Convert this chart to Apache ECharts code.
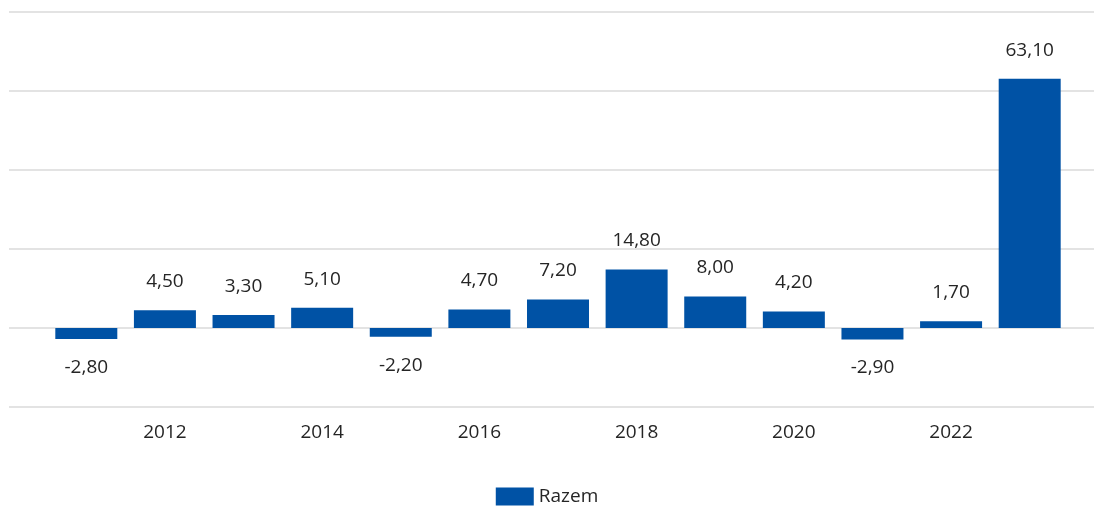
<!DOCTYPE html>
<html>
<head>
<meta charset="utf-8">
<script src="https://cdn.jsdelivr.net/npm/echarts@6/dist/echarts.min.js"></script>
<style>
  html, body { margin: 0; padding: 0; background: #fff; }
  #chart { width: 1094px; height: 506px; }
</style>
</head>
<body>
<div id="chart"></div>
<script>
// Year categories and yearly values of the single series
const years = ['2011', '2012', '2013', '2014', '2015', '2016', '2017', '2018', '2019', '2020', '2021', '2022', '2023'];
const razem = [-2.8, 4.5, 3.3, 5.1, -2.2, 4.7, 7.2, 14.8, 8.0, 4.2, -2.9, 1.7, 63.1];
const seriesName = 'Razem';

// Value scale shared by both grids
const yMin = -20;
const yMax = 80;
const yStep = 20;

const fontFamily = '"Open Sans", "Noto Sans", sans-serif';
const textColor = '#252525';
const barColor = '#0052a5';
const gridColor = '#e3e3e3';

const fmt = v => v.toFixed(2).replace('.', ',');

const chart = echarts.init(document.getElementById('chart'), null, { renderer: 'canvas' });
chart.setOption({
  animation: false,
  textStyle: { fontFamily: fontFamily },
  grid: [
    // plotting area for the bars
    { left: 47, right: 25, top: 12, bottom: 99, containLabel: false },
    // wider area that only carries the horizontal gridlines
    { left: 9, right: 0, top: 12, bottom: 99, containLabel: false }
  ],
  legend: {
    top: 487,
    left: 'center',
    padding: 0,
    itemWidth: 38,
    itemHeight: 18,
    itemGap: 10,
    icon: 'rect',
    textStyle: { fontSize: 19, color: textColor, fontFamily: fontFamily },
    data: [seriesName]
  },
  xAxis: [
    {
      type: 'category',
      gridIndex: 0,
      data: years,
      axisLine: { show: false },
      axisTick: { show: false },
      axisLabel: {
        interval: (idx) => idx % 2 === 1,
        color: textColor,
        fontSize: 19,
        margin: 16,
        fontFamily: fontFamily
      }
    },
    { type: 'value', gridIndex: 1, show: false, min: 0, max: 1 }
  ],
  yAxis: [
    {
      type: 'value',
      gridIndex: 0,
      min: yMin, max: yMax, interval: yStep,
      axisLine: { show: false },
      axisTick: { show: false },
      axisLabel: { show: false },
      splitLine: { show: false }
    },
    {
      type: 'value',
      gridIndex: 1,
      min: yMin, max: yMax, interval: yStep,
      axisLine: { show: false },
      axisTick: { show: false },
      axisLabel: { show: false },
      splitLine: { show: true, lineStyle: { color: gridColor, width: 2 } }
    }
  ],
  series: [
    {
      name: seriesName,
      type: 'bar',
      xAxisIndex: 0,
      yAxisIndex: 0,
      data: razem.map(v => ({
        value: v,
        label: { position: v < 0 ? 'bottom' : 'top' }
      })),
      barWidth: 62,
      itemStyle: { color: barColor },
      label: {
        show: true,
        distance: 19,
        color: textColor,
        fontSize: 19,
        fontFamily: fontFamily,
        formatter: p => fmt(p.value)
      }
    }
  ]
});
</script>
</body>
</html>
